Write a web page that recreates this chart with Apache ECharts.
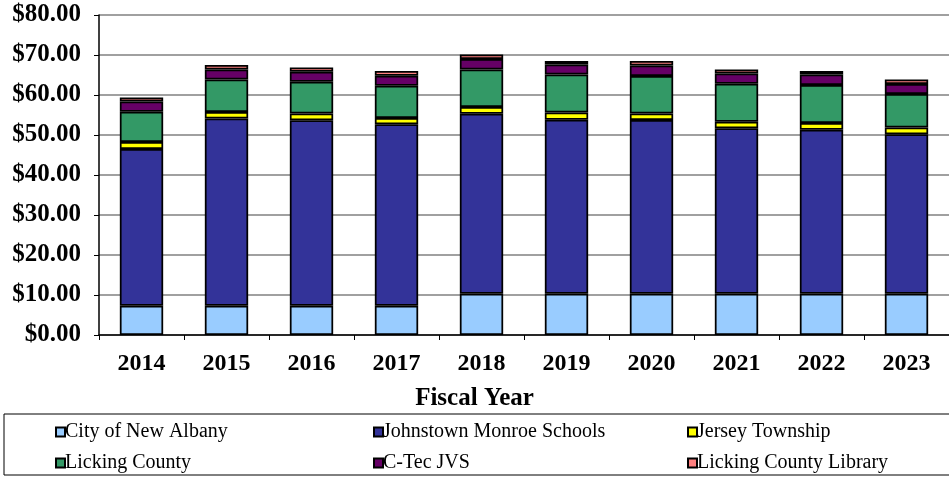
<!DOCTYPE html>
<html>
<head>
<meta charset="utf-8">
<script src="https://cdn.jsdelivr.net/npm/echarts@6/dist/echarts.min.js"></script>
<style>
  html, body { margin: 0; padding: 0; background: #fff; }
  #chart { width: 949px; height: 477px; }
</style>
</head>
<body>
<div id="chart"></div>
<script>
// Fiscal years shown on the category axis
const years = ['2014', '2015', '2016', '2017', '2018', '2019', '2020', '2021', '2022', '2023'];

// Levy amounts per taxing district (dollars)
const cityNewAlbany      = [7.3, 7.3, 7.3, 7.3, 10.3, 10.3, 10.3, 10.3, 10.3, 10.3];
const johnstownMonroe    = [39.2, 46.8, 46.4, 45.4, 45.0, 43.5, 43.45, 41.4, 41.0, 39.9];
const jerseyTownship     = [1.75, 1.65, 1.7, 1.55, 1.7, 1.8, 1.65, 1.6, 1.7, 1.7];
const lickingCounty      = [7.55, 8.15, 7.9, 8.05, 9.4, 9.5, 9.35, 9.5, 9.5, 8.35];
const cTecJVS            = [2.6, 2.5, 2.5, 2.5, 2.6, 2.5, 2.65, 2.6, 2.6, 2.5];
const lickingLibrary     = [1.0, 1.1, 1.1, 1.2, 1.1, 0.9, 1.1, 1.0, 0.9, 1.15];

// Value axis ticks
const yMin = 0, yMax = 80, yStep = 10;

const seriesDefs = [
  { name: 'City of New Albany', data: cityNewAlbany, color: '#99CCFF' },
  { name: 'Johnstown Monroe Schools', data: johnstownMonroe, color: '#333399' },
  { name: 'Jersey Township', data: jerseyTownship, color: '#FFFF00' },
  { name: 'Licking County', data: lickingCounty, color: '#339966' },
  { name: 'C-Tec JVS', data: cTecJVS, color: '#660066' },
  { name: 'Licking County Library', data: lickingLibrary, color: '#FF8080' }
];

const serif = '"Liberation Serif", "Times New Roman", serif';

// Legend laid out as a 3 x 2 table inside a framed box
const legendPos = [
  [55, 422], [373, 422], [687, 422],
  [55, 453], [373, 453], [687, 453]
];

const chart = echarts.init(document.getElementById('chart'));
chart.setOption({
  animation: false,
  backgroundColor: '#fff',
  title: {
    text: 'Fiscal Year',
    left: 'center',
    top: 386,
    padding: 0,
    textStyle: { fontFamily: serif, fontSize: 25, fontWeight: 'bold', color: '#000' }
  },
  grid: { left: 99, right: -10, top: 15, bottom: 142, containLabel: false },
  xAxis: {
    type: 'category',
    data: years,
    axisLine: { lineStyle: { color: '#000', width: 1.5 } },
    axisTick: { show: true, length: 5, lineStyle: { color: '#000' } },
    axisLabel: { fontFamily: serif, fontSize: 24, fontWeight: 'bold', color: '#000', margin: 17 }
  },
  yAxis: {
    type: 'value',
    min: yMin, max: yMax, interval: yStep,
    axisLine: { show: true, lineStyle: { color: '#000', width: 1.5 } },
    axisTick: { show: true, length: 5, lineStyle: { color: '#000' } },
    axisLabel: {
      fontFamily: serif, fontSize: 25, fontWeight: 'bold', color: '#000', margin: 18,
      formatter: v => '$' + v.toFixed(2)
    },
    splitLine: { lineStyle: { color: '#808080', width: 1.5 } }
  },
  legend: seriesDefs.map((s, i) => ({
    data: [s.name],
    left: legendPos[i][0],
    top: legendPos[i][1],
    itemWidth: 9, itemHeight: 9,
    padding: 0,
    icon: 'rect',
    selectedMode: false,
    itemStyle: { borderColor: '#000', borderWidth: 2 },
    textStyle: { fontFamily: serif, fontSize: 20, color: '#000', padding: [0, 0, 0, -5] }
  })),
  graphic: [{
    type: 'rect',
    shape: { x: 4, y: 414, width: 960, height: 61 },
    style: { fill: 'none', stroke: '#000', lineWidth: 1 },
    z: -1
  }],
  series: seriesDefs.map(s => ({
    name: s.name,
    type: 'bar',
    stack: 'total',
    data: s.data,
    barWidth: '51%',
    itemStyle: { color: s.color, borderColor: '#000', borderWidth: 1.75 }
  }))
});
</script>
</body>
</html>
